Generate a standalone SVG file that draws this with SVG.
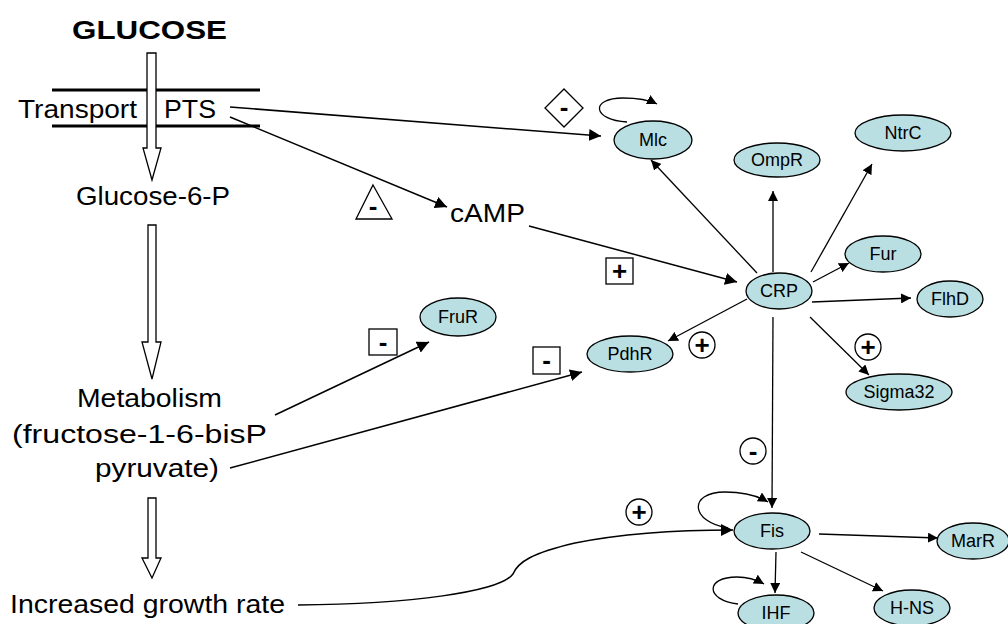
<svg xmlns="http://www.w3.org/2000/svg" width="1008" height="624" viewBox="0 0 1008 624">
  <style>
    .lbl { font-family: "Liberation Sans", Arial, sans-serif; font-size: 26.5px; fill: #000; }
    .node ellipse { fill: #b9dfe2; stroke: #000; stroke-width: 1.3; }
    .node text { font-family: "Liberation Sans", Arial, sans-serif; font-size: 18px; text-anchor: middle; fill: #000; }
    .sign { font-family: "Liberation Sans", Arial, sans-serif; font-size: 26px; font-weight: bold; text-anchor: middle; fill: #000; }
    .box { fill: #fff; stroke: #000; stroke-width: 1.3; }
    .link { fill: none; stroke: #000; stroke-width: 1.5; }
    .thin { fill: none; stroke: #000; stroke-width: 1.3; }
    .hollow { fill: #fff; stroke: #000; stroke-width: 1.3; }
  </style>
  <defs>
    <marker id="big" viewBox="0 0 10 10" refX="10" refY="5" markerWidth="12" markerHeight="12" markerUnits="userSpaceOnUse" orient="auto">
      <path d="M0,0 L10,5 L0,10 z" fill="#000"/>
    </marker>
    <marker id="small" viewBox="0 0 10 10" refX="10" refY="5" markerWidth="10" markerHeight="10" markerUnits="userSpaceOnUse" orient="auto">
      <path d="M0,0 L10,5 L0,10 z" fill="#000"/>
    </marker>
  </defs>
  <rect width="1008" height="624" fill="#fff"/>

  <!-- glucose pathway column -->
  <g id="pathway">
    <text class="lbl" x="72" y="39" font-weight="bold" font-size="28" textLength="155" lengthAdjust="spacingAndGlyphs">GLUCOSE</text>
    <line x1="52" y1="90" x2="260" y2="90" stroke="#000" stroke-width="3"/>
    <line x1="52" y1="126" x2="260" y2="126" stroke="#000" stroke-width="3"/>
    <text class="lbl" x="18" y="118" textLength="119" lengthAdjust="spacingAndGlyphs">Transport</text>
    <text class="lbl" x="164" y="118" textLength="52" lengthAdjust="spacingAndGlyphs">PTS</text>
    <polygon class="hollow" points="147,53 156,53 156,148 161,148 152,180 143,148 147,148"/>
    <text class="lbl" x="76" y="205" textLength="154" lengthAdjust="spacingAndGlyphs">Glucose-6-P</text>
    <polygon class="hollow" points="148,225 156,225 156,342 161,342 152,379 142,342 148,342"/>
    <text class="lbl" x="77" y="407" textLength="145" lengthAdjust="spacingAndGlyphs">Metabolism</text>
    <text class="lbl" x="12" y="443" textLength="255" lengthAdjust="spacingAndGlyphs">(fructose-1-6-bisP</text>
    <text class="lbl" x="95" y="477" textLength="124" lengthAdjust="spacingAndGlyphs">pyruvate)</text>
    <polygon class="hollow" points="148,498 156,498 156,558 161,558 152,578 142,558 148,558"/>
    <text class="lbl" x="10" y="613" textLength="275" lengthAdjust="spacingAndGlyphs">Increased growth rate</text>
  </g>

  <g id="camp">
    <text class="lbl" x="450" y="222" font-size="27" textLength="75" lengthAdjust="spacingAndGlyphs">cAMP</text>
  </g>

  <!-- connectors -->
  <g id="connectors">
    <line class="link" x1="230" y1="107" x2="601" y2="136" marker-end="url(#big)"/>
    <line class="link" x1="230" y1="117" x2="447" y2="207" marker-end="url(#big)"/>
    <line class="link" x1="529" y1="226" x2="737" y2="282" marker-end="url(#big)"/>
    <line class="thin" x1="757" y1="273" x2="651" y2="160" marker-end="url(#small)"/>
    <line class="thin" x1="773" y1="272" x2="773" y2="191" marker-end="url(#small)"/>
    <line class="thin" x1="811" y1="272" x2="872" y2="164" marker-end="url(#small)"/>
    <line class="thin" x1="813" y1="282" x2="849" y2="263" marker-end="url(#small)"/>
    <line class="thin" x1="812" y1="302" x2="911" y2="298" marker-end="url(#small)"/>
    <line class="thin" x1="810" y1="317" x2="869" y2="375" marker-end="url(#small)"/>
    <line class="thin" x1="747" y1="299" x2="668" y2="341" marker-end="url(#small)"/>
    <line class="thin" x1="773" y1="317" x2="772" y2="508" marker-end="url(#small)"/>
    <line class="link" x1="275" y1="415" x2="429" y2="342" marker-end="url(#big)"/>
    <line class="link" x1="230" y1="468" x2="582" y2="372" marker-end="url(#big)"/>
    <path class="link" d="M298,605 C410,604 500,592 513,574 C518,562 532,553 575,543 C630,532 690,530 733,530" marker-end="url(#big)"/>
    <line class="thin" x1="819" y1="534" x2="938" y2="538" marker-end="url(#small)"/>
    <line class="thin" x1="776" y1="552" x2="775" y2="593" marker-end="url(#small)"/>
    <line class="thin" x1="801" y1="552" x2="883" y2="591" marker-end="url(#small)"/>
    <!-- self-regulation loops -->
    <path class="thin" d="M627,122 C592,120 590,98 623,98 C638,98 649,100 657,104" marker-end="url(#small)"/>
    <path class="thin" d="M728,528 C690,522 688,492 725,492 C745,492 758,496 768,502" marker-end="url(#small)"/>
    <path class="thin" d="M738,604 C705,600 705,577 737,577 C748,577 757,580 764,584" marker-end="url(#small)"/>
  </g>

  <!-- regulation signs -->
  <g id="signs">
    <polygon class="box" points="564,89 583,108 564,127 545,108"/>
    <text class="sign" x="564" y="116">-</text>
    <polygon class="box" points="373,185 392,219 356,219"/>
    <text class="sign" x="373" y="215">-</text>
    <rect class="box" x="606" y="258" width="27" height="26"/>
    <text class="sign" x="619.5" y="280">+</text>
    <rect class="box" x="369" y="329" width="28" height="26"/>
    <text class="sign" x="383" y="351">-</text>
    <rect class="box" x="533" y="347" width="27" height="27"/>
    <text class="sign" x="546.5" y="369">-</text>
    <circle class="box" cx="702" cy="345" r="13"/>
    <text class="sign" x="702" y="354">+</text>
    <circle class="box" cx="868" cy="347" r="13"/>
    <text class="sign" x="868" y="356">+</text>
    <circle class="box" cx="753" cy="451" r="13"/>
    <text class="sign" x="753" y="460">-</text>
    <circle class="box" cx="639" cy="512" r="13"/>
    <text class="sign" x="639" y="521">+</text>
  </g>

  <!-- regulator nodes -->
  <g id="Mlc" class="node"><ellipse cx="653" cy="140" rx="39" ry="19"/><text x="653" y="146">Mlc</text></g>
  <g id="OmpR" class="node"><ellipse cx="777" cy="160" rx="43" ry="17"/><text x="777" y="166">OmpR</text></g>
  <g id="NtrC" class="node"><ellipse cx="903" cy="133" rx="48" ry="18"/><text x="903" y="139">NtrC</text></g>
  <g id="Fur" class="node"><ellipse cx="883" cy="254" rx="38" ry="18"/><text x="883" y="260">Fur</text></g>
  <g id="CRP" class="node"><ellipse cx="779" cy="291" rx="33" ry="18"/><text x="779" y="297">CRP</text></g>
  <g id="FlhD" class="node"><ellipse cx="950" cy="299" rx="33" ry="18"/><text x="950" y="305">FlhD</text></g>
  <g id="FruR" class="node"><ellipse cx="458" cy="317" rx="38" ry="19"/><text x="458" y="323">FruR</text></g>
  <g id="PdhR" class="node"><ellipse cx="630" cy="354" rx="43" ry="18"/><text x="630" y="360">PdhR</text></g>
  <g id="Sigma32" class="node"><ellipse cx="899" cy="392" rx="53" ry="18"/><text x="899" y="398">Sigma32</text></g>
  <g id="Fis" class="node"><ellipse cx="772" cy="531" rx="38" ry="18"/><text x="772" y="537">Fis</text></g>
  <g id="MarR" class="node"><ellipse cx="973" cy="541" rx="36" ry="18"/><text x="973" y="547">MarR</text></g>
  <g id="IHF" class="node"><ellipse cx="776" cy="613" rx="38" ry="18"/><text x="776" y="619">IHF</text></g>
  <g id="H-NS" class="node"><ellipse cx="912" cy="608" rx="38" ry="18"/><text x="912" y="614">H-NS</text></g>
</svg>
